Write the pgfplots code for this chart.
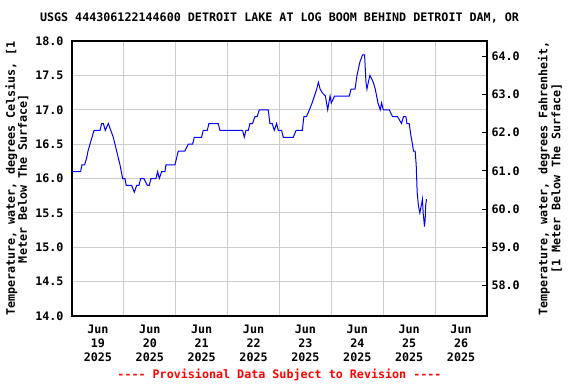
\documentclass[border=0pt]{standalone}
\usepackage{pgfplots}
\pgfplotsset{compat=1.18}
\usepackage{fontspec}
\setmonofont{DejaVu Sans Mono}
\renewcommand\familydefault{\ttdefault}
\newcommand\lab{\fontsize{11.7bp}{14bp}\selectfont\ttfamily\bfseries}
\begin{document}
\ttfamily
\begin{tikzpicture}
\useasboundingbox (-72bp,-68bp) rectangle (504bp,316bp);
\begin{axis}[name=ax, scale only axis, width=415bp, height=275bp,
  xmin=0, xmax=8, ymin=14, ymax=18,
  xtick={0.5,1.5,2.5,3.5,4.5,5.5,6.5,7.5},
  xticklabels={Jun\\19\\2025,Jun\\20\\2025,Jun\\21\\2025,Jun\\22\\2025,Jun\\23\\2025,Jun\\24\\2025,Jun\\25\\2025,Jun\\26\\2025},
  minor xtick={1,2,3,4,5,6,7}, xminorgrids=true,
  ytick={14,14.5,15,15.5,16,16.5,17,17.5,18},
  yticklabels={14.0,14.5,15.0,15.5,16.0,16.5,17.0,17.5,18.0},
  ymajorgrids=true,
  xtick pos=bottom, ytick pos=left,
  major tick length=0pt, minor tick length=0pt,
  grid style={color=black!20, line width=1bp},
  minor grid style={color=black!20, line width=1bp},
  axis line style={line width=1.2bp},
  xticklabel style={font=\lab, align=center, yshift=-5bp},
  yticklabel style={font=\lab, xshift=-5bp},
]
\addplot[color={rgb,255:red,0;green,0;blue,255}, line width=1bp] coordinates {
(0.000,16.1) (0.167,16.1) (0.19,16.2) (0.244,16.2) (0.283,16.3) (0.309,16.4)
(0.347,16.5) (0.386,16.6) (0.424,16.7) (0.540,16.7) (0.572,16.8) (0.604,16.8)
(0.642,16.7) (0.700,16.8) (0.796,16.6) (0.860,16.4) (0.925,16.2) (0.976,16.0)
(1.021,16.0) (1.045,15.9) (1.150,15.9) (1.201,15.8) (1.246,15.9) (1.291,15.9)
(1.323,16.0) (1.387,16.0) (1.451,15.9) (1.490,15.9) (1.522,16.0) (1.618,16.0)
(1.651,16.1) (1.683,16.0) (1.728,16.1) (1.792,16.1) (1.811,16.2) (1.985,16.2)
(2.049,16.4) (2.177,16.4) (2.242,16.5) (2.325,16.5) (2.357,16.6) (2.498,16.6)
(2.530,16.7) (2.607,16.7) (2.640,16.8) (2.819,16.8) (2.852,16.7) (3.288,16.7)
(3.321,16.6) (3.353,16.7) (3.398,16.7) (3.430,16.8) (3.481,16.8) (3.526,16.9)
(3.571,16.9) (3.610,17.0) (3.783,17.0) (3.815,16.8) (3.860,16.8) (3.899,16.7)
(3.944,16.8) (3.976,16.7) (4.040,16.7) (4.072,16.6) (4.265,16.6) (4.32,16.7)
(4.44,16.7) (4.470,16.9) (4.52,16.9) (4.577,17.0) (4.629,17.1) (4.673,17.2)
(4.717,17.3) (4.750,17.4) (4.783,17.3) (4.821,17.25) (4.885,17.2) (4.929,17.0)
(4.975,17.2) (5.000,17.1) (5.063,17.2) (5.346,17.2) (5.379,17.3) (5.456,17.3)
(5.494,17.5) (5.552,17.7) (5.602,17.8) (5.640,17.8) (5.667,17.4) (5.686,17.3)
(5.712,17.4) (5.744,17.5) (5.808,17.4) (5.846,17.3) (5.898,17.1) (5.942,17.0)
(5.967,17.1) (6.000,17.0) (6.115,17.0) (6.179,16.9) (6.275,16.9) (6.352,16.8)
(6.390,16.9) (6.437,16.9) (6.456,16.8) (6.500,16.8) (6.519,16.7) (6.538,16.6)
(6.563,16.5) (6.583,16.4) (6.615,16.4) (6.635,16.2) (6.654,15.8) (6.679,15.6)
(6.706,15.5) (6.731,15.6) (6.756,15.7) (6.769,15.5) (6.783,15.4) (6.794,15.3)
(6.808,15.4) (6.817,15.6) (6.833,15.7)
};
\end{axis}
\begin{axis}[scale only axis, width=415bp, height=275bp,
  xmin=0, xmax=8, ymin=57.2, ymax=64.4,
  axis x line=none, axis y line*=right,
  ytick={58,59,60,61,62,63,64},
  yticklabels={58.0,59.0,60.0,61.0,62.0,63.0,64.0},
  tick align=inside, major tick length=5bp,
  tick style={black, line width=1bp},
  axis line style={line width=1.2bp},
  yticklabel style={font=\lab, xshift=1bp},
]
\end{axis}
\node[font=\lab] at ([yshift=23bp]ax.north) {USGS 444306122144600 DETROIT LAKE AT LOG BOOM BEHIND DETROIT DAM, OR};
\node[font=\lab, text=red] at ([yshift=-59bp]ax.south) {---- Provisional Data Subject to Revision ----};
\node[font=\fontsize{11.7bp}{12bp}\selectfont\ttfamily\bfseries, rotate=90, align=center] at ([xshift=-55bp]ax.west) {Temperature, water, degrees Celsius, [1\\Meter Below The Surface]};
\node[font=\fontsize{11.7bp}{13bp}\selectfont\ttfamily\bfseries, rotate=90, align=center] at ([xshift=63bp]ax.east) {Temperature, water, degrees Fahrenheit,\\{[1 Meter Below The Surface]}};
\end{tikzpicture}
\end{document}
